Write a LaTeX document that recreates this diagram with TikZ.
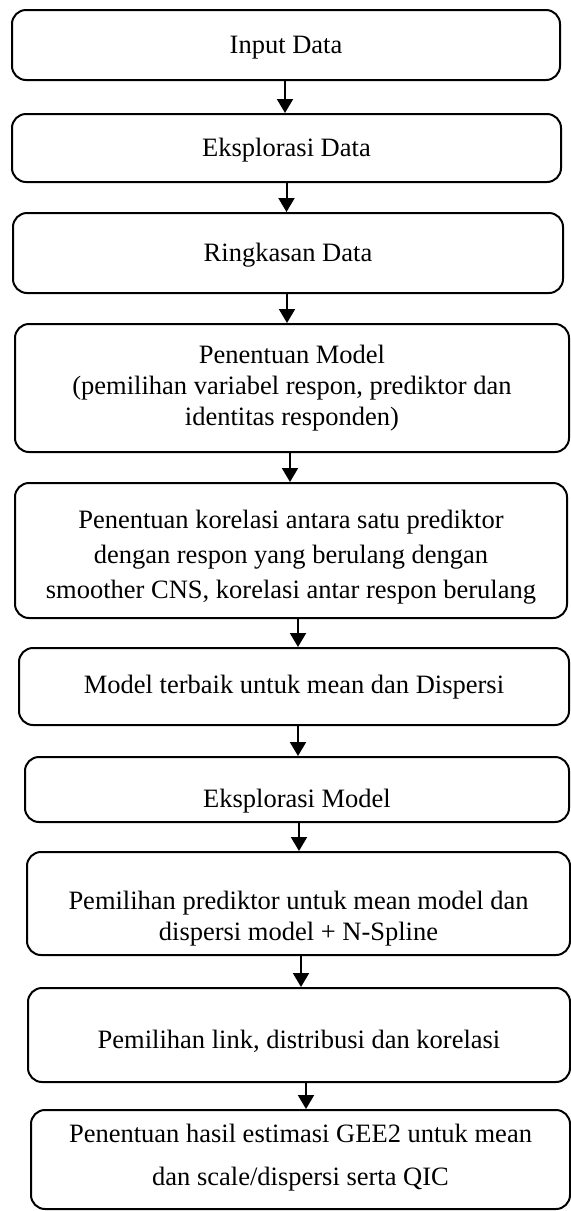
\documentclass[tikz,border=0pt]{standalone}
\usepackage{fontspec}
\setmainfont{Liberation Serif}
\usetikzlibrary{arrows.meta}

% text of a step, lowered by #1 inside its box
\newcommand{\steptext}[2]{\raisebox{#1}[\height][\depth]{\begin{tabular}{@{}c@{}}#2\end{tabular}}}

\begin{document}
\begin{tikzpicture}[
		x=0.5pt, y=-0.5pt,
		>={Triangle[length=7pt,width=8pt]},
		flow/.style={line width=1pt,->},
		box/.style={draw, line width=1pt, rounded corners=7pt,
			inner sep=0pt, font=\fontsize{13.25}{15.5}\selectfont}
	]
		\useasboundingbox (0,0) rectangle (571,1211);

		%steps
		\node[box, minimum width=274pt, minimum height=35pt] (input) at (286,45)
			{\steptext{-1pt}{Input Data}};
		\node[box, minimum width=274.5pt, minimum height=34pt] (eksdata) at (286.5,148)
			{\steptext{-1pt}{Eksplorasi Data}};
		\node[box, minimum width=275pt, minimum height=40pt] (ringkas) at (288,253)
			{\steptext{-1pt}{Ringkasan Data}};
		\node[box, minimum width=277pt, minimum height=64pt] (model) at (292,388)
			{\steptext{0pt}{Penentuan Model\\(pemilihan variabel respon, prediktor dan\\identitas responden)}};
		\node[box, minimum width=276pt, minimum height=67.5pt] (korelasi) at (291,550.5)
			{\steptext{-3.5pt}{Penentuan korelasi antara satu prediktor\\[2pt]dengan respon yang berulang dengan\\[2pt]smoother CNS, korelasi antar respon berulang}};
		\node[box, minimum width=275pt, minimum height=38.5pt] (terbaik) at (294,686.5)
			{\steptext{-0.5pt}{Model terbaik untuk mean dan Dispersi}};
		\node[box, minimum width=272pt, minimum height=32.5pt] (eksmodel) at (297,789.5)
			{\steptext{-6pt}{Eksplorasi Model}};
		\node[box, minimum width=271.5pt, minimum height=51.5pt] (prediktor) at (298.5,903.5)
			{\steptext{-7.5pt}{Pemilihan prediktor untuk mean model dan\\dispersi model + N-Spline}};
		\node[box, minimum width=271pt, minimum height=47pt] (link) at (299,1035)
			{\steptext{-3.5pt}{Pemilihan link, distribusi dan korelasi}};
		\node[box, minimum width=269.5pt, minimum height=49.5pt] (hasil) at (300.5,1159.5)
			{\steptext{1pt}{Penentuan hasil estimasi GEE2 untuk mean\\[6pt]dan scale/dispersi serta QIC}};

		%arrows
		\foreach \a/\b/\dx in {input/eksdata/-0.5, eksdata/ringkas/0, ringkas/model/-0.5,
			model/korelasi/-1, korelasi/terbaik/3.5, terbaik/eksmodel/2, eksmodel/prediktor/1,
			prediktor/link/1.25, link/hasil/3.5} {
			\draw[flow] ([xshift=\dx pt]\a.south) coordinate (s) -- (s |- \b.north);
		}
	\end{tikzpicture}
\end{document}
